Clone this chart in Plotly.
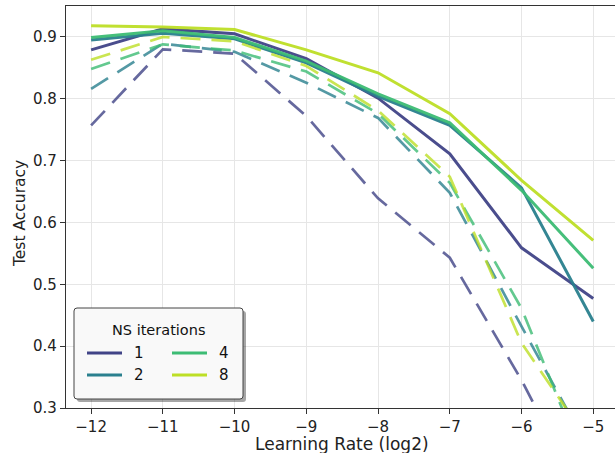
import plotly.graph_objects as go

# Learning-rate sweep (log2) and test accuracy per Newton-Schulz iteration count
lr_log2 = [-12, -11, -10, -9, -8, -7, -6, -5]
ns_iters = ["1", "2", "4", "8"]

acc_1_solid = [0.879, 0.913, 0.905, 0.865, 0.801, 0.711, 0.559, 0.477]
acc_2_solid = [0.895, 0.906, 0.897, 0.858, 0.804, 0.757, 0.656, 0.440]
acc_4_solid = [0.899, 0.910, 0.899, 0.861, 0.808, 0.761, 0.652, 0.526]
acc_8_solid = [0.918, 0.916, 0.912, 0.879, 0.842, 0.776, 0.668, 0.571]

acc_1_dashed = [0.757, 0.880, 0.873, 0.772, 0.639, 0.543, 0.345, 0.120]
acc_2_dashed = [0.816, 0.889, 0.876, 0.826, 0.769, 0.648, 0.432, 0.220]
acc_4_dashed = [0.848, 0.888, 0.878, 0.844, 0.776, 0.664, 0.461, 0.175]
acc_8_dashed = [0.863, 0.900, 0.893, 0.853, 0.781, 0.674, 0.405, 0.235]

y_ticks = [0.3, 0.4, 0.5, 0.6, 0.7, 0.8, 0.9]

colors = ["#414487", "#2a808e", "#3dbc74", "#bddf26"]
solid = [acc_1_solid, acc_2_solid, acc_4_solid, acc_8_solid]
dashed = [acc_1_dashed, acc_2_dashed, acc_4_dashed, acc_8_dashed]

W, H = 615, 453
ML, MR, MT, MB = 66, 0, 6, 45
FONT = "DejaVu Sans"

fig = go.Figure()
for name, col, ys, yd in zip(ns_iters, colors, solid, dashed):
    fig.add_trace(go.Scatter(x=lr_log2, y=ys, mode="lines", name=name,
                             line=dict(color=col, width=3), opacity=0.95,
                             showlegend=False))
    fig.add_trace(go.Scatter(x=lr_log2, y=yd, mode="lines", name=name,
                             line=dict(color=col, width=2.7, dash="20px,11px"),
                             opacity=0.8, showlegend=False))

fig.update_layout(
    width=W, height=H,
    margin=dict(l=ML, r=MR, t=MT, b=MB),
    paper_bgcolor="white", plot_bgcolor="white",
    font=dict(family=FONT, size=15, color="#222"),
    showlegend=False,
)
fig.update_xaxes(
    range=[-12.35, -4.697], tickvals=lr_log2, ticks="outside", ticklen=5,
    tickcolor="#333", showline=True, linecolor="#333", linewidth=1.2,
    mirror=True, showgrid=True, gridcolor="#e6e6e6", gridwidth=1,
    zeroline=False, tickfont=dict(size=15), automargin=False,
)
fig.update_yaxes(
    range=[0.3, 0.95], tickvals=y_ticks, tickformat=".1f", ticks="outside",
    ticklen=5, tickcolor="#333", showline=True, linecolor="#333",
    linewidth=1.2, mirror=False, showgrid=True, gridcolor="#e6e6e6",
    gridwidth=1, zeroline=False, tickfont=dict(size=15), automargin=False,
)

# Pixel positions converted to paper fractions
pw, ph = W - ML - MR, H - MT - MB


def px(x):
    return (x - ML) / pw


def py(y):
    return (H - MB - y) / ph


# Axis titles
fig.add_annotation(x=px(342), y=py(444), xref="paper", yref="paper",
                   text="Learning Rate (log2)", showarrow=False,
                   xanchor="center", yanchor="middle", borderpad=0,
                   font=dict(size=17, color="#222"))
fig.add_annotation(x=px(20), y=py(214), xref="paper", yref="paper",
                   text="Test Accuracy", showarrow=False, textangle=-90,
                   xanchor="center", yanchor="middle",
                   font=dict(size=15.5, color="#222"))


def rounded_rect(x0, y0, x1, y1, r):
    rx, ry = r / pw, r / ph
    a, b, c, d = px(x0), py(y1), px(x1), py(y0)
    return (f"M {a+rx},{b} L {c-rx},{b} Q {c},{b} {c},{b+ry} "
            f"L {c},{d-ry} Q {c},{d} {c-rx},{d} L {a+rx},{d} "
            f"Q {a},{d} {a},{d-ry} L {a},{b+ry} Q {a},{b} {a+rx},{b} Z")


# Legend box with drop shadow
box = (74, 308, 243, 399)
fig.add_shape(type="path", xref="paper", yref="paper", layer="above",
              path=rounded_rect(box[0] + 3, box[1] + 3, box[2] + 3, box[3] + 3, 3),
              fillcolor="rgba(0,0,0,0.35)", line=dict(width=0))
fig.add_shape(type="path", xref="paper", yref="paper", layer="above",
              path=rounded_rect(*box, 3),
              fillcolor="#f9f9f9", line=dict(color="#444", width=1))

fig.add_annotation(x=px((box[0] + box[2]) / 2), y=py(330), xref="paper",
                   yref="paper", text="NS iterations", showarrow=False,
                   xanchor="center", yanchor="middle",
                   font=dict(size=14.5, color="#111"))

slots = [(87, 353), (87, 375), (172, 353), (172, 375)]
for name, col, (lx, ly) in zip(ns_iters, colors, slots):
    fig.add_shape(type="line", xref="paper", yref="paper", layer="above",
                  x0=px(lx), x1=px(lx + 35), y0=py(ly), y1=py(ly),
                  line=dict(color=col, width=3))
    fig.add_annotation(x=px(lx + 45), y=py(ly), xref="paper", yref="paper",
                       text=name, showarrow=False, xanchor="left",
                       yanchor="middle", font=dict(size=15, color="#111"))

fig.write_html("out.html")
